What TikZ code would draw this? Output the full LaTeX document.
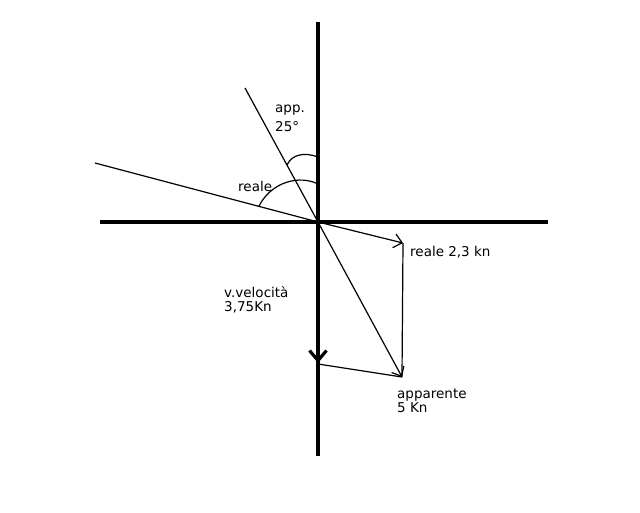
\documentclass[tikz,border=0pt]{standalone}
\usepackage{fontspec}
\setmainfont{DejaVu Sans}
\usetikzlibrary{arrows.meta}
\begin{document}
\begin{tikzpicture}[x=1pt,y=-1pt,
  axis/.style={line width=3.6pt},
  vec/.style={line width=1.2pt},
  tiparrow/.style={-{Straight Barb[length=8pt,width=14pt,line width=1.2pt]}},
  bigtip/.style={-{Straight Barb[length=10pt,width=17pt,line width=3.2pt]}},
  lbl/.style={font=\fontsize{13.5}{14}\selectfont, inner sep=0pt, anchor=base west, align=left}
]
\useasboundingbox[fill=white] (0,0) rectangle (640,512);
% coordinates
\coordinate (O) at (318,222);
\coordinate (Vtop) at (318,22);
\coordinate (Vbot) at (318,456);
\coordinate (Hl) at (100,222);
\coordinate (Hr) at (548,222);
\coordinate (W) at (95,163);
\coordinate (A) at (245,88);
\coordinate (R) at (403,243);
\coordinate (P) at (402,377);
\coordinate (V) at (318,363);
\coordinate (V2) at (318,364);
\coordinate (a1) at (287,165);
\coordinate (a2) at (318,157);
\coordinate (r1) at (259,206);
\coordinate (r2) at (318,184);
% axes
\draw[axis] (Vtop) -- (Vbot);
\draw[axis] (Hl) -- (Hr);
% lines
\draw[vec] (W) -- (O);
\draw[vec] (A) -- (O);
\draw[vec,tiparrow] (O) -- (R);
\draw[vec,tiparrow] (O) -- (P);
\draw[vec] (R) -- (P);
\draw[vec] (V2) -- (P);
\draw[bigtip,line width=3.6pt] (O) -- (V);
% angle arcs
\draw[vec] (a1) .. controls (292,154) and (305,152) .. (a2);
\draw[vec] (r1) .. controls (272,181) and (300,175) .. (r2);
% labels (base anchor = baseline of last line)
\node[lbl] (tapp) at (275,131) {app.\\[5pt]25°};
\node[lbl] (treale) at (238,191) {reale};
\node[lbl] (treale2) at (410,256) {reale 2,3 kn};
\node[lbl] (tvel) at (224,311) {v.velocità\\3,75Kn};
\node[lbl] (tapp2) at (397,412) {apparente\\5 Kn};
\end{tikzpicture}
\end{document}
